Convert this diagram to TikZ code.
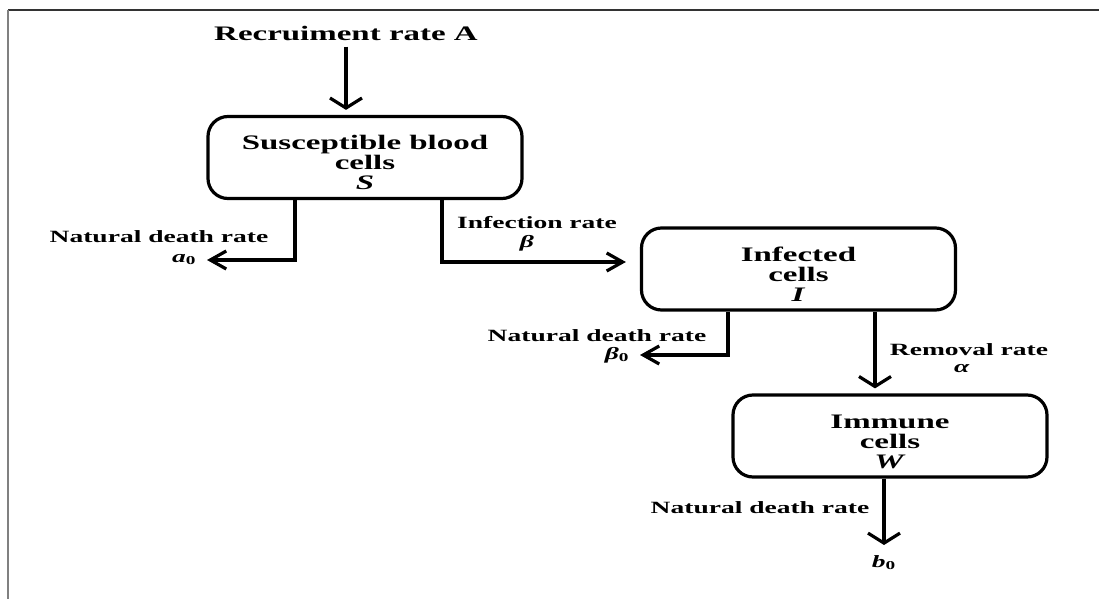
\documentclass[tikz,border=0pt]{standalone}
\usepackage{fontspec}
\setmainfont{Liberation Serif}[FakeStretch=1.6]
\usetikzlibrary{arrows.meta}

\newcommand{\bigtxt}{\fontsize{10.3}{10}\selectfont\bfseries}
\newcommand{\smalltxt}{\fontsize{8.6}{9}\selectfont\bfseries}
\newcommand{\toppad}{\rule{0pt}{12.5pt}}

\begin{document}
\begin{tikzpicture}[x=0.5pt,y=-0.5pt,
	box/.style={draw,line width=1.6pt,rounded corners=10pt,minimum width=157pt,minimum height=41pt,align=center,inner sep=0pt,font=\bigtxt},
	lbl/.style={inner sep=0pt,font=\smalltxt},
	flowv/.style={line width=1.6pt,-{Straight Barb[length=5pt,width=16pt]}},
	flowh/.style={line width=1.6pt,-{Straight Barb[length=8pt,width=9pt]}}]

\useasboundingbox (0,0) rectangle (1099,599);

% frame
\draw[black!80,line width=0.6pt] (8,10) -- (1099,10);
\draw[gray,line width=0.7pt] (8,10) -- (8,599);

% compartments
\node[box] (S) at (365,157.5) {\toppad Susceptible blood\\cells\\\textit{S}};
\node[box] (I) at (798.5,269) {\toppad Infected\\cells\\\textit{I}};
\node[box] (W) at (890,436) {\toppad Immune\\cells\\\textit{W}};

% recruitment
\node[inner sep=0pt,font=\bigtxt] (rec) at (346,33) {Recruiment rate A};
\draw[flowv,shorten <=3pt,shorten >=2.5pt] (rec.south) -- (rec.south |- S.north);

% out of S
\coordinate (sd) at ([xshift=-35pt]S.south);
\coordinate (si) at ([xshift=38.5pt]S.south);
\coordinate (iin) at ([xshift=-7pt,yshift=3.5pt]I.west);
\node[lbl] (nd1) at (159,237) {Natural death rate};
\node[lbl,inner sep=5pt,anchor=east] (a0) at (207,260) {\textit{a}\textsubscript{0}};
\node[lbl] (inf) at (537,223) {Infection rate};
\node[lbl] (beta) at (527,243) {\textit{β}};
\draw[flowh] (sd) |- (a0.east);
\draw[flowh] (si) |- (iin);

% out of I
\coordinate (id) at ([xshift=-35.25pt]I.south);
\coordinate (iw) at ([xshift=38.25pt]I.south);
\node[lbl] (nd2) at (597,336) {Natural death rate};
\node[lbl,inner sep=5pt,anchor=east] (b0) at (640,355) {\textit{β}\textsubscript{0}};
\node[lbl] (rem) at (969,350) {Removal rate};
\node[lbl] (alpha) at (962,369) {\textit{α}};
\draw[flowh] (id) |- (b0.east);
\draw[flowv,shorten >=2.5pt] (iw) -- (iw |- W.north);

% out of W
\coordinate (wd) at ([xshift=-3pt]W.south);
\node[lbl] (nd3) at (760,508) {Natural death rate};
\node[lbl,inner sep=5pt,anchor=north] (c0) at (884,545) {\textit{b}\textsubscript{0}};
\draw[flowv] (wd) -- (c0.north);

\end{tikzpicture}
\end{document}
